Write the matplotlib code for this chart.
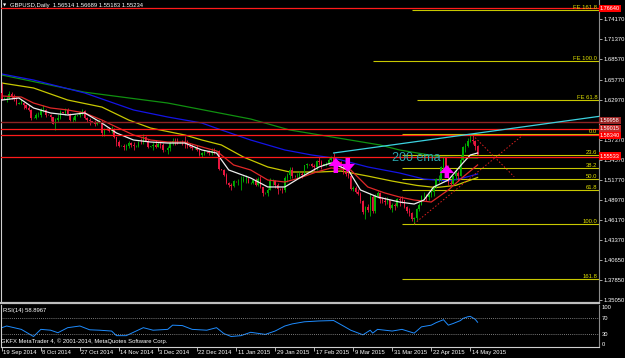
import numpy as np
import matplotlib
matplotlib.use("Agg")
import matplotlib.pyplot as plt
import matplotlib.transforms as mtransforms

plt.rcParams['font.family'] = ['Liberation Sans', 'DejaVu Sans']

# ---------------- data (GBPUSD daily) ----------------
first_open = 1.6395
closes = [
    1.6310, 1.6318, 1.6320, 1.6375, 1.6340, 1.6305, 1.6240, 1.6250, 1.6255, 1.6215,
    1.6175, 1.6150, 1.6040, 1.6045, 1.6075, 1.6080, 1.6150, 1.6155, 1.6085, 1.6080,
    1.6050, 1.5960, 1.6010, 1.6040, 1.6120, 1.6115, 1.6150, 1.6100, 1.6010, 1.6010,
    1.6070, 1.6075, 1.6120, 1.6140, 1.6045, 1.6015, 1.5995, 1.5990, 1.5950, 1.5990,
    1.5990, 1.5825, 1.5890, 1.5885, 1.5865, 1.5880, 1.5770, 1.5705, 1.5650, 1.5655,
    1.5640, 1.5650, 1.5690, 1.5665, 1.5650, 1.5650, 1.5705, 1.5700, 1.5775, 1.5725,
    1.5640, 1.5645, 1.5665, 1.5640, 1.5675, 1.5665, 1.5590, 1.5595, 1.5615, 1.5690,
    1.5720, 1.5715, 1.5705, 1.5710, 1.5700, 1.5690, 1.5645, 1.5640, 1.5620, 1.5620,
    1.5590, 1.5525, 1.5545, 1.5570, 1.5565, 1.5550, 1.5580, 1.5575, 1.5580, 1.5330,
    1.5320, 1.5250, 1.5140, 1.5110, 1.5095, 1.5160, 1.5155, 1.5160, 1.5165, 1.5185,
    1.5190, 1.5135, 1.5140, 1.5170, 1.5110, 1.5190, 1.5080, 1.4995, 1.5000, 1.5040,
    1.5155, 1.5160, 1.5105, 1.5055, 1.5050, 1.5035, 1.5210, 1.5245, 1.5310, 1.5235,
    1.5230, 1.5230, 1.5255, 1.5240, 1.5380, 1.5400, 1.5395, 1.5370, 1.5355, 1.5435,
    1.5420, 1.5390, 1.5395, 1.5400, 1.5460, 1.5490, 1.5410, 1.5435, 1.5425, 1.5370,
    1.5285, 1.5265, 1.5235, 1.5045, 1.5065, 1.5010, 1.4985, 1.4885, 1.4735, 1.4795,
    1.4760, 1.4945, 1.4745, 1.4950, 1.4995, 1.4910, 1.4880, 1.4875, 1.4895, 1.4785,
    1.4820, 1.4810, 1.4905, 1.4900, 1.4890, 1.4800, 1.4745, 1.4710, 1.4630, 1.4640,
    1.4765, 1.4825, 1.4950, 1.4955, 1.4935, 1.4960, 1.5010, 1.5075, 1.5185, 1.5190,
    1.5360, 1.5485, 1.5350, 1.5135, 1.5125, 1.5225, 1.5270, 1.5235, 1.5450, 1.5640,
    1.5650, 1.5725, 1.5740, 1.5715, 1.5650, 1.55234]
highs = [
    1.6525, 1.6330, 1.6345, 1.6420, 1.6400, 1.6370, 1.6330, 1.6260, 1.6300, 1.6260,
    1.6235, 1.6225, 1.6165, 1.6055, 1.6110, 1.6130, 1.6180, 1.6225, 1.6160, 1.6095,
    1.6100, 1.6060, 1.6045, 1.6100, 1.6145, 1.6125, 1.6180, 1.6175, 1.6110, 1.6060,
    1.6095, 1.6085, 1.6140, 1.6160, 1.6150, 1.6060, 1.6035, 1.6000, 1.6015, 1.6000,
    1.6030, 1.6010, 1.5900, 1.5895, 1.5910, 1.5925, 1.5900, 1.5770, 1.5730, 1.5665,
    1.5680, 1.5680, 1.5725, 1.5710, 1.5710, 1.5660, 1.5720, 1.5760, 1.5810, 1.5790,
    1.5750, 1.5650, 1.5700, 1.5730, 1.5700, 1.5715, 1.5685, 1.5600, 1.5645, 1.5715,
    1.5760, 1.5765, 1.5765, 1.5715, 1.5740, 1.5785, 1.5740, 1.5690, 1.5675, 1.5630,
    1.5660, 1.5605, 1.5570, 1.5590, 1.5575, 1.5590, 1.5620, 1.5620, 1.5590, 1.5590,
    1.5335, 1.5335, 1.5270, 1.5150, 1.5135, 1.5180, 1.5165, 1.5195, 1.5225, 1.5225,
    1.5245, 1.5215, 1.5145, 1.5185, 1.5200, 1.5220, 1.5235, 1.5080, 1.5010, 1.5060,
    1.5200, 1.5195, 1.5170, 1.5130, 1.5060, 1.5080, 1.5225, 1.5270, 1.5350, 1.5350,
    1.5240, 1.5275, 1.5295, 1.5280, 1.5390, 1.5415, 1.5405, 1.5410, 1.5400, 1.5450,
    1.5490, 1.5450, 1.5400, 1.5425, 1.5480, 1.5505, 1.5552, 1.5450, 1.5435, 1.5445,
    1.5385, 1.5335, 1.5320, 1.5255, 1.5090, 1.5095, 1.5045, 1.5010, 1.4900, 1.4815,
    1.4835, 1.4995, 1.4970, 1.4975, 1.5015, 1.5010, 1.4940, 1.4935, 1.4935, 1.4895,
    1.4855, 1.4860, 1.4920, 1.4945, 1.4955, 1.4900, 1.4815, 1.4780, 1.4735, 1.4665,
    1.4780, 1.4860, 1.4970, 1.5010, 1.4975, 1.5000, 1.5065, 1.5090, 1.5200, 1.5250,
    1.5370, 1.5500, 1.5495, 1.5380, 1.5175, 1.5235, 1.5330, 1.5300, 1.5525, 1.5650,
    1.5690, 1.5755, 1.5815, 1.5800, 1.5735, 1.56689]
lows = [
    1.6285, 1.6300, 1.6265, 1.6300, 1.6305, 1.6280, 1.6225, 1.6235, 1.6230, 1.6160,
    1.6160, 1.6140, 1.6015, 1.6035, 1.6020, 1.6050, 1.6050, 1.6125, 1.6050, 1.6075,
    1.6000, 1.5950, 1.5875, 1.5980, 1.6030, 1.6105, 1.6085, 1.6080, 1.5995, 1.5980,
    1.6005, 1.6065, 1.6060, 1.6085, 1.6030, 1.5990, 1.5940, 1.5980, 1.5935, 1.5940,
    1.5965, 1.5790, 1.5790, 1.5875, 1.5850, 1.5835, 1.5765, 1.5650, 1.5630, 1.5645,
    1.5590, 1.5600, 1.5615, 1.5640, 1.5590, 1.5640, 1.5640, 1.5675, 1.5680, 1.5715,
    1.5620, 1.5630, 1.5590, 1.5615, 1.5635, 1.5620, 1.5570, 1.5580, 1.5540, 1.5580,
    1.5660, 1.5670, 1.5675, 1.5695, 1.5660, 1.5615, 1.5620, 1.5615, 1.5590, 1.5610,
    1.5580, 1.5510, 1.5500, 1.5530, 1.5555, 1.5530, 1.5525, 1.5540, 1.5565, 1.5320,
    1.5310, 1.5230, 1.5120, 1.5080, 1.5035, 1.5080, 1.5145, 1.5110, 1.5035, 1.5145,
    1.5135, 1.5130, 1.5125, 1.5115, 1.5085, 1.5090, 1.5060, 1.4950, 1.4985, 1.4950,
    1.5030, 1.5105, 1.5060, 1.4985, 1.5040, 1.4990, 1.5010, 1.5150, 1.5190, 1.5200,
    1.5220, 1.5190, 1.5205, 1.5200, 1.5235, 1.5340, 1.5385, 1.5350, 1.5300, 1.5320,
    1.5390, 1.5335, 1.5380, 1.5375, 1.5380, 1.5440, 1.5405, 1.5380, 1.5415, 1.5340,
    1.5255, 1.5225, 1.5200, 1.5030, 1.5025, 1.4990, 1.4970, 1.4850, 1.4700, 1.4635,
    1.4725, 1.4670, 1.4720, 1.4720, 1.4925, 1.4850, 1.4855, 1.4820, 1.4845, 1.4770,
    1.4730, 1.4750, 1.4800, 1.4815, 1.4855, 1.4780, 1.4710, 1.4680, 1.4600, 1.4565,
    1.4620, 1.4745, 1.4820, 1.4920, 1.4880, 1.4895, 1.4940, 1.4955, 1.5060, 1.5150,
    1.5165, 1.5330, 1.5325, 1.5110, 1.5085, 1.5110, 1.5170, 1.5165, 1.5230, 1.5445,
    1.5570, 1.5630, 1.5705, 1.5680, 1.5590, 1.55183]

date_bars = [0, 16, 32, 48, 64, 80, 96, 112, 128, 144, 160, 176, 192]
date_labels = ["19 Sep 2014", "8 Oct 2014", "27 Oct 2014", "14 Nov 2014", "3 Dec 2014",
               "22 Dec 2014", "11 Jan 2015", "29 Jan 2015", "17 Feb 2015", "9 Mar 2015",
               "31 Mar 2015", "22 Apr 2015", "14 May 2015"]

# 1.60170 sits under the stacked price boxes, so its label is not shown
price_ticks = [1.74170, 1.71370, 1.68570, 1.65770, 1.62970, 1.60170, 1.57370, 1.54570,
               1.51770, 1.48970, 1.46170, 1.43370, 1.40650, 1.37850, 1.35050]
hidden_ticks = [1.60170]

# moving averages, read at a few bars each
white_x = [0, 7, 13, 20, 27, 34, 41, 47, 54, 61, 68, 75, 82, 88, 93, 102, 109, 116, 122,
           130, 135, 142, 147, 154, 163, 169, 173, 177, 183, 189, 192, 195]
white_y = [1.6291, 1.6319, 1.6180, 1.6110, 1.6082, 1.6110, 1.5970, 1.5831, 1.5733, 1.5705,
           1.5691, 1.5691, 1.5594, 1.5552, 1.5315, 1.5203, 1.5078, 1.5078, 1.5203, 1.5357,
           1.5413, 1.5315, 1.5036, 1.4938, 1.4868, 1.4840, 1.4896, 1.5078, 1.5175, 1.5413,
           1.5524, 1.5552]
red_x = [0, 8, 13, 20, 27, 34, 41, 47, 54, 61, 68, 75, 82, 88, 95, 102, 109, 116, 122, 129,
         135, 143, 150, 157, 163, 169, 176, 183, 189, 195]
red_y = [1.6347, 1.6333, 1.6249, 1.6180, 1.6152, 1.6110, 1.6012, 1.5914, 1.5803, 1.5733,
         1.5705, 1.5705, 1.5636, 1.5580, 1.5385, 1.5315, 1.5175, 1.5147, 1.5203, 1.5287,
         1.5343, 1.5315, 1.5078, 1.4994, 1.4938, 1.4896, 1.4868, 1.5036, 1.5217, 1.5385]
yellow_x = [0, 13, 27, 41, 52, 61, 75, 82, 90, 99, 109, 118, 130, 139, 150, 160, 170, 178,
            186, 195]
yellow_y = [1.6528, 1.6459, 1.6291, 1.6193, 1.6012, 1.5900, 1.5803, 1.5733, 1.5664, 1.5496,
            1.5357, 1.5287, 1.5287, 1.5300, 1.5230, 1.5160, 1.5100, 1.5070, 1.5100, 1.5210]
blue_x = [0, 13, 34, 54, 68, 82, 90, 102, 116, 127, 136, 150, 163, 173, 183, 189, 195]
blue_y = [1.6654, 1.6570, 1.6389, 1.6152, 1.6054, 1.5970, 1.5873, 1.5733, 1.5594, 1.5524,
          1.5482, 1.5357, 1.5273, 1.5189, 1.5161, 1.5203, 1.5259]
green_x = [0, 34, 68, 102, 118, 155, 163, 180, 195]
green_y = [1.6640, 1.6400, 1.6249, 1.6026, 1.5873, 1.5664, 1.5594, 1.5496, 1.5482]

# RSI(14), read at a few bars
rsi_x = [0, 2, 8, 13, 16, 20, 23, 27, 32, 36, 40, 45, 47, 51, 58, 62, 68, 70, 74, 78, 84,
         88, 91, 94, 98, 102, 108, 112, 116, 119, 124, 130, 136, 140, 143, 148, 151, 152,
         154, 160, 164, 169, 172, 176, 178, 181, 183, 185, 188, 189, 191, 192, 194, 195]
rsi_v = [46, 50, 42, 25, 42, 40, 34, 46, 50, 41, 40, 38, 27, 27, 46, 40, 42, 52, 51, 42, 40,
         46, 32, 25, 27, 35, 30, 38, 50, 55, 60, 62, 63, 50, 40, 29, 40, 33, 42, 38, 42, 33,
         48, 52, 58, 65, 52, 56, 63, 68, 72, 73, 66, 58.9]

# horizontal lines drawn on the chart
red_levels = [1.7568, 1.5891, 1.5806, 1.5499]
darkred_level = 1.5988
fe_names = ["FE 161.8", "FE 100.0", "FE 61.8"]
fe_levels = [1.7552, 1.6835, 1.6298]
fe_start = [168, 152, 170]
fib_high, fib_low = 1.5815, 1.4565
fib_ratios = [0.0, 23.6, 38.2, 50.0, 61.8, 100.0, 161.8]
fib_start = 164

trend_x = [136, 192]
trend_y = [1.5552, 1.5815]
dot1_x, dot1_y = [169, 213.5], [1.4565, 1.5800]
dot2_x, dot2_y = [193, 210], [1.5800, 1.5220]

arrows_up = [(136.9, 1.5482, 1.5273), (182.4, 1.5385, 1.5203)]
arrows_down = [(141.8, 1.5482, 1.5287)]

price_boxes = [("1.76640", 1.7572, '#FF0000'), ("1.59958", 1.6000, '#9A2525'),
               ("1.59015", 1.5898, '#C42828'), ("1.58340", 1.5797, '#FF0000'),
               ("1.55533", 1.5510, '#FF0000')]

# ---------------- figure ----------------
W, H = 625, 358
fig = plt.figure(figsize=(W / 100, H / 100), dpi=100, facecolor='black')
x0, x1 = 1.5, 599
ax = fig.add_axes([x0 / W, 1 - 303 / H, (x1 - x0) / W, 303 / H], facecolor='black')
ax_r = fig.add_axes([x0 / W, 1 - 347 / H, (x1 - x0) / W, 42 / H], facecolor='black',
                    sharex=ax)

bar_px, first_px = 2.44, 1.8
xlim = ((x0 - first_px) / bar_px, (x1 - first_px) / bar_px)
ax.set_xlim(*xlim)
ax.set_ylim(1.34594, 1.76862)
ax_r.set_ylim(0, 100)

idx = np.arange(len(closes))
c = np.array(closes)
o = np.r_[first_open, c[:-1]]
up = c >= o
col = np.where(up, '#00B000', '#E8163E')
ax.vlines(idx, lows, highs, colors=col, lw=0.6, zorder=3)
ax.bar(idx, np.abs(c - o), bottom=np.minimum(o, c), width=0.6, color=col, lw=0, zorder=3)

# moving averages
ax.plot(green_x, green_y, color='#109010', lw=0.9, zorder=2)
ax.plot(blue_x, blue_y, color='#1414E6', lw=0.9, zorder=2)
ax.plot(yellow_x, yellow_y, color='#C8C800', lw=0.9, zorder=2)
ax.plot(red_x, red_y, color='#E02828', lw=0.9, zorder=4)
ax.plot(white_x, white_y, color='#EEEEEE', lw=0.9, zorder=4)

# fibonacci expansion + retracement
fib_col = '#C8C800'
for name, lv, s in zip(fe_names, fe_levels, fe_start):
    ax.hlines(lv, s, xlim[1], color=fib_col, lw=0.8, zorder=1)
    ax.text(0.997, lv, name, transform=ax.get_yaxis_transform(), ha='right', va='bottom',
            color='#E0E000', fontsize=4.2, zorder=6)
for r in fib_ratios:
    lv = fib_high - (fib_high - fib_low) * r / 100
    ax.hlines(lv, fib_start, xlim[1], color=fib_col, lw=0.8, zorder=1)
    ax.text(0.997, lv, f"{r:.1f}", transform=ax.get_yaxis_transform(), ha='right',
            va='bottom', color='#E0E000', fontsize=4.2, zorder=6)

# horizontal support/resistance
ax.axhline(darkred_level, color='#8E2222', lw=1.0, zorder=5)
for lv in red_levels:
    ax.axhline(lv, color='#FF1A1A', lw=0.9, zorder=5)

# trend line (ray) and dotted projections
slope = (trend_y[1] - trend_y[0]) / (trend_x[1] - trend_x[0])
ax.plot([trend_x[0], xlim[1]], [trend_y[0], trend_y[0] + slope * (xlim[1] - trend_x[0])],
        color='#3CD2E0', lw=0.9, zorder=5)
ax.plot(dot1_x, dot1_y, color='#E02020', lw=0.7, ls=(0, (1.5, 2)), zorder=5)
ax.plot(dot2_x, dot2_y, color='#E02020', lw=0.7, ls=(0, (1.5, 2)), zorder=5)

# arrows
arr = dict(arrowstyle='simple,head_length=0.45,head_width=0.8,tail_width=0.25',
           fc='#FF00FF', ec='none', shrinkA=0, shrinkB=0, mutation_scale=13)
for xb, top, bot in arrows_up:
    ax.annotate('', xy=(xb, top), xytext=(xb, bot), arrowprops=arr, zorder=7)
for xb, top, bot in arrows_down:
    ax.annotate('', xy=(xb, bot), xytext=(xb, top), arrowprops=arr, zorder=7)

ax.text(160, 1.5489, "200 ema", color='#2AA8B0', fontsize=9, va='center', ha='left', zorder=6)

# price axis
ax.yaxis.tick_right()
ax.set_yticks(price_ticks)
ax.set_yticklabels(["" if t in hidden_ticks else f"{t:.5f}" for t in price_ticks])
ax.tick_params(axis='y', colors='#C0C0C0', labelcolor='white', length=2, width=0.6,
               labelsize=4.2, pad=1)
ax.tick_params(axis='x', bottom=False, labelbottom=False)
for lbl, lv, fc in price_boxes:
    ax.text(1.0015, lv, lbl, transform=ax.get_yaxis_transform(), ha='left', va='center',
            color='white', fontsize=4.0, zorder=8, clip_on=False,
            bbox=dict(boxstyle='square,pad=0.2', fc=fc, ec='none'))

for a in (ax, ax_r):
    a.spines['top'].set_visible(False)
    a.spines['left'].set_color('#D0D0D0')
    a.spines['left'].set_linewidth(0.8)
    a.spines['right'].set_color('#8C8C8C')
    a.spines['right'].set_linewidth(0.8)
ax.spines['bottom'].set_color('#BEBEBE')
ax.spines['bottom'].set_linewidth(1.6)
ax_r.spines['bottom'].set_color('#D0D0D0')
ax_r.spines['bottom'].set_linewidth(0.8)

# RSI panel
ax_r.plot(rsi_x, rsi_v, color='#1E8CFF', lw=0.7)
ax_r.axhline(70, color='#A0A0A0', lw=0.6, ls=(0, (1, 1.5)))
ax_r.axhline(30, color='#A0A0A0', lw=0.6, ls=(0, (1, 1.5)))
ax_r.yaxis.tick_right()
ax_r.set_yticks([70, 30])
ax_r.set_yticklabels(["70", "30"])
ax_r.tick_params(axis='y', length=0, labelcolor='white', labelsize=4.2, pad=2)
ax_r.text(1.004, 99, "100", transform=ax_r.get_yaxis_transform(), color='white',
          fontsize=4.2, va='top', ha='left', clip_on=False)
ax_r.text(1.004, 1, "0", transform=ax_r.get_yaxis_transform(), color='white',
          fontsize=4.2, va='bottom', ha='left', clip_on=False)
ax_r.text(0.003, 0.93, "RSI(14) 58.8967", transform=ax_r.transAxes, color='white',
          fontsize=4.2, va='top', ha='left')

ax_r.set_xticks(date_bars)
ax_r.set_xticklabels(date_labels)
ax_r.tick_params(axis='x', colors='#D0D0D0', labelcolor='white', length=3, width=0.6,
                 labelsize=4.2, pad=-1.0, direction='out')
shift = mtransforms.ScaledTranslation(1.5 / 100, 0, fig.dpi_scale_trans)
for t in ax_r.get_xticklabels():
    t.set_horizontalalignment('left')
    t.set_transform(t.get_transform() + shift)

fig.text(1 / W, 1 - 341 / H, "GKFX MetaTrader 4, \u00a9 2001-2014, MetaQuotes Software Corp.",
         color='white', fontsize=4.2, va='center', ha='left')
fig.text(3 / W, 1 - 5.5 / H, "\u25bc", color='white', fontsize=3, va='center', ha='left',
         family=['DejaVu Sans'])
fig.text(10 / W, 1 - 5.5 / H, "GBPUSD,Daily  1.56514 1.56689 1.55183 1.55234", color='white',
         fontsize=4.2, va='center', ha='left')

fig.savefig("out.png", dpi=100, facecolor='black')
